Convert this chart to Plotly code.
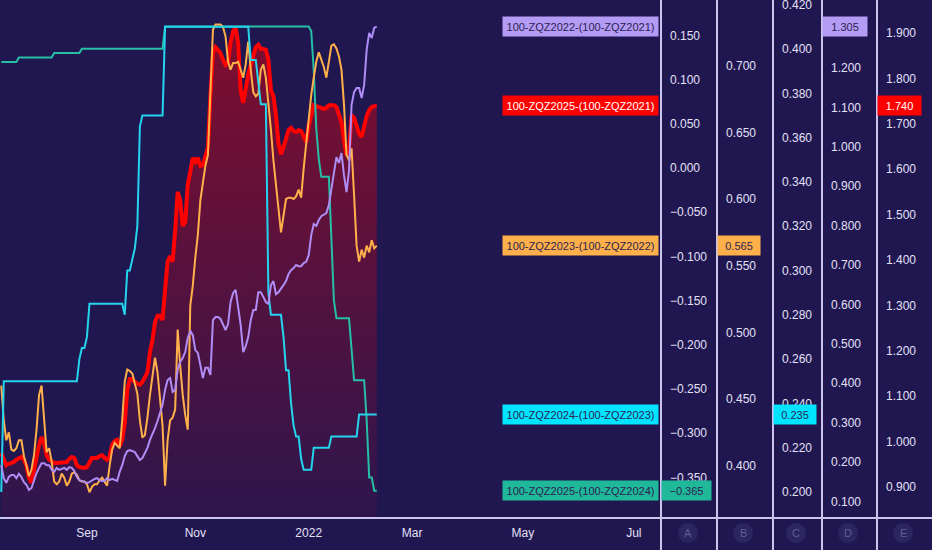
import pandas as pd
import plotly.graph_objects as go

# ---------------- data (daily, trading days) ----------------
dates = pd.bdate_range("2021-07-15", periods=150)

tick_dates = ["2021-09-01", "2021-11-01", "2022-01-03", "2022-03-01", "2022-05-02", "2022-07-01"]
tick_labels = ["Sep", "Nov", "2022", "Mar", "May", "Jul"]

series_names = [
    "100-ZQZ2022-(100-ZQZ2021)",
    "100-ZQZ2025-(100-ZQZ2021)",
    "100-ZQZ2023-(100-ZQZ2022)",
    "100-ZQZ2024-(100-ZQZ2023)",
    "100-ZQZ2025-(100-ZQZ2024)",
]

# 100-ZQZ2025-(100-ZQZ2021)  (axis E)
red_vals = [
    0.975, 0.960, 0.948, 0.951, 0.953, 0.955, 0.960, 0.964, 0.966, 0.960,
    0.946, 0.920, 0.909, 0.937, 0.966, 0.993, 1.010, 0.997, 0.970, 0.960,
    0.957, 0.953, 0.953, 0.953, 0.955, 0.955, 0.955, 0.962, 0.966, 0.964,
    0.948, 0.944, 0.942, 0.942, 0.944, 0.955, 0.964, 0.964, 0.964, 0.968,
    0.970, 0.964, 0.960, 0.968, 0.993, 1.001, 1.004, 0.990, 1.004, 1.041,
    1.114, 1.138, 1.138, 1.131, 1.127, 1.125, 1.131, 1.140, 1.153, 1.197,
    1.224, 1.263, 1.277, 1.277, 1.268, 1.334, 1.396, 1.409, 1.396, 1.466,
    1.550, 1.532, 1.475, 1.484, 1.565, 1.594, 1.625, 1.616, 1.625, 1.607,
    1.609, 1.629, 1.647, 1.763, 1.858, 1.869, 1.863, 1.856, 1.841, 1.830,
    1.836, 1.880, 1.904, 1.911, 1.878, 1.774, 1.746, 1.779, 1.808, 1.830,
    1.852, 1.869, 1.874, 1.865, 1.865, 1.863, 1.841, 1.774, 1.761, 1.719,
    1.658, 1.633, 1.649, 1.669, 1.686, 1.691, 1.684, 1.682, 1.686, 1.684,
    1.669, 1.660, 1.697, 1.722, 1.741, 1.739, 1.737, 1.735, 1.733, 1.735,
    1.741, 1.741, 1.741, 1.737, 1.722, 1.704, 1.664, 1.631, 1.642, 1.719,
    1.713, 1.695, 1.678, 1.671, 1.697, 1.717, 1.730, 1.737, 1.739, 1.740,
]

# 100-ZQZ2023-(100-ZQZ2022)  (axis B)
orange_vals = [
    0.460, 0.434, 0.419, 0.425, 0.412, 0.411, 0.413, 0.419, 0.419, 0.407,
    0.400, 0.392, 0.397, 0.408, 0.427, 0.453, 0.460, 0.434, 0.410, 0.413,
    0.403, 0.388, 0.386, 0.388, 0.394, 0.391, 0.385, 0.388, 0.394, 0.395,
    0.393, 0.389, 0.388, 0.388, 0.386, 0.380, 0.384, 0.386, 0.386, 0.389,
    0.391, 0.388, 0.385, 0.400, 0.412, 0.417, 0.415, 0.413, 0.434, 0.463,
    0.472, 0.471, 0.469, 0.462, 0.454, 0.434, 0.421, 0.423, 0.436, 0.453,
    0.468, 0.481, 0.470, 0.449, 0.430, 0.385, 0.419, 0.434, 0.436, 0.442,
    0.502, 0.475, 0.453, 0.438, 0.427, 0.520, 0.535, 0.556, 0.573, 0.599,
    0.614, 0.625, 0.633, 0.682, 0.727, 0.731, 0.731, 0.731, 0.729, 0.722,
    0.703, 0.697, 0.702, 0.702, 0.703, 0.697, 0.691, 0.701, 0.718, 0.697,
    0.680, 0.677, 0.679, 0.697, 0.701, 0.691, 0.674, 0.652, 0.629, 0.608,
    0.593, 0.575, 0.588, 0.600, 0.601, 0.601, 0.600, 0.602, 0.607, 0.601,
    0.623, 0.641, 0.663, 0.678, 0.691, 0.703, 0.710, 0.704, 0.699, 0.691,
    0.704, 0.715, 0.716, 0.713, 0.707, 0.697, 0.671, 0.633, 0.629, 0.638,
    0.603, 0.565, 0.553, 0.562, 0.556, 0.565, 0.560, 0.569, 0.563, 0.565,
]

# 100-ZQZ2024-(100-ZQZ2023)  (axis C)
cyan_vals = [
    0.200, 0.250, 0.250, 0.250, 0.250, 0.250, 0.250, 0.250, 0.250, 0.250,
    0.250, 0.250, 0.250, 0.250, 0.250, 0.250, 0.250, 0.250, 0.250, 0.250,
    0.250, 0.250, 0.250, 0.250, 0.250, 0.250, 0.250, 0.250, 0.250, 0.250,
    0.250, 0.260, 0.265, 0.265, 0.270, 0.285, 0.285, 0.285, 0.285, 0.285,
    0.285, 0.285, 0.285, 0.285, 0.285, 0.285, 0.285, 0.285, 0.285, 0.280,
    0.300, 0.300, 0.305, 0.310, 0.320, 0.365, 0.370, 0.370, 0.370, 0.370,
    0.370, 0.370, 0.370, 0.370, 0.370, 0.410, 0.410, 0.410, 0.410, 0.410,
    0.410, 0.410, 0.410, 0.410, 0.410, 0.410, 0.410, 0.410, 0.410, 0.410,
    0.410, 0.410, 0.410, 0.410, 0.410, 0.410, 0.410, 0.410, 0.410, 0.410,
    0.410, 0.410, 0.410, 0.410, 0.410, 0.410, 0.410, 0.410, 0.410, 0.395,
    0.395, 0.395, 0.385, 0.375, 0.375, 0.375, 0.290, 0.280, 0.280, 0.280,
    0.280, 0.280, 0.270, 0.255, 0.255, 0.240, 0.230, 0.225, 0.225, 0.215,
    0.210, 0.210, 0.210, 0.210, 0.220, 0.220, 0.220, 0.220, 0.220, 0.220,
    0.220, 0.225, 0.225, 0.225, 0.225, 0.225, 0.225, 0.225, 0.225, 0.225,
    0.225, 0.225, 0.235, 0.235, 0.235, 0.235, 0.235, 0.235, 0.235, 0.235,
]

# 100-ZQZ2025-(100-ZQZ2024)  (axis A)
teal_vals = [
    0.120, 0.120, 0.120, 0.120, 0.120, 0.120, 0.120, 0.125, 0.125, 0.125,
    0.125, 0.125, 0.125, 0.125, 0.125, 0.125, 0.125, 0.125, 0.125, 0.125,
    0.125, 0.130, 0.130, 0.130, 0.130, 0.130, 0.130, 0.130, 0.130, 0.130,
    0.130, 0.130, 0.135, 0.135, 0.135, 0.135, 0.135, 0.135, 0.135, 0.135,
    0.135, 0.135, 0.135, 0.135, 0.135, 0.135, 0.135, 0.135, 0.135, 0.135,
    0.135, 0.135, 0.135, 0.135, 0.135, 0.135, 0.135, 0.135, 0.135, 0.135,
    0.135, 0.135, 0.135, 0.135, 0.135, 0.160, 0.160, 0.160, 0.160, 0.160,
    0.160, 0.160, 0.160, 0.160, 0.160, 0.160, 0.160, 0.160, 0.160, 0.160,
    0.160, 0.160, 0.160, 0.160, 0.160, 0.160, 0.160, 0.160, 0.160, 0.160,
    0.160, 0.160, 0.160, 0.160, 0.160, 0.160, 0.160, 0.160, 0.160, 0.160,
    0.160, 0.160, 0.160, 0.160, 0.160, 0.160, 0.160, 0.160, 0.160, 0.160,
    0.160, 0.160, 0.160, 0.160, 0.160, 0.160, 0.160, 0.160, 0.160, 0.160,
    0.160, 0.160, 0.160, 0.155, 0.110, 0.045, 0.010, -0.010, -0.010, -0.010,
    -0.010, -0.080, -0.150, -0.170, -0.170, -0.170, -0.170, -0.170, -0.170, -0.205,
    -0.240, -0.240, -0.240, -0.240, -0.240, -0.285, -0.350, -0.350, -0.365, -0.365,
]

# 100-ZQZ2022-(100-ZQZ2021)  (axis D)
purple_vals = [
    0.192, 0.159, 0.147, 0.162, 0.167, 0.167, 0.159, 0.170, 0.162, 0.149,
    0.142, 0.129, 0.134, 0.154, 0.172, 0.185, 0.197, 0.197, 0.192, 0.192,
    0.180, 0.175, 0.185, 0.180, 0.182, 0.185, 0.180, 0.187, 0.185, 0.177,
    0.162, 0.154, 0.152, 0.149, 0.147, 0.149, 0.154, 0.157, 0.159, 0.154,
    0.152, 0.152, 0.159, 0.154, 0.157, 0.154, 0.152, 0.175, 0.192, 0.215,
    0.228, 0.230, 0.228, 0.225, 0.215, 0.205, 0.210, 0.225, 0.236, 0.256,
    0.269, 0.286, 0.304, 0.327, 0.345, 0.383, 0.408, 0.413, 0.378, 0.383,
    0.434, 0.454, 0.464, 0.479, 0.515, 0.533, 0.522, 0.484, 0.477, 0.446,
    0.413, 0.439, 0.439, 0.421, 0.560, 0.568, 0.568, 0.563, 0.548, 0.535,
    0.550, 0.606, 0.629, 0.637, 0.593, 0.548, 0.479, 0.494, 0.517, 0.560,
    0.586, 0.586, 0.631, 0.631, 0.619, 0.606, 0.601, 0.649, 0.659, 0.626,
    0.631, 0.639, 0.649, 0.659, 0.677, 0.687, 0.692, 0.700, 0.697, 0.697,
    0.705, 0.708, 0.725, 0.776, 0.804, 0.799, 0.814, 0.824, 0.827, 0.832,
    0.852, 0.895, 0.936, 0.974, 0.959, 0.984, 0.928, 0.885, 0.941, 1.106,
    1.139, 1.149, 1.149, 1.124, 1.157, 1.246, 1.289, 1.276, 1.302, 1.305,
]

# tick values per price scale
ticks_A = [-0.35, -0.30, -0.25, -0.20, -0.15, -0.10, -0.05, 0.0, 0.05, 0.10, 0.15]
ticks_B = [0.40, 0.45, 0.50, 0.55, 0.60, 0.65, 0.70]
ticks_C = [0.20, 0.22, 0.24, 0.26, 0.28, 0.30, 0.32, 0.34, 0.36, 0.38, 0.40, 0.42]
ticks_D = [0.1, 0.2, 0.3, 0.4, 0.5, 0.6, 0.7, 0.8, 0.9, 1.0, 1.1, 1.2]
ticks_E = [0.9, 1.0, 1.1, 1.2, 1.3, 1.4, 1.5, 1.6, 1.7, 1.8, 1.9]

# ---------------- layout constants ----------------
W, H = 932, 550
BOTTOM = 518
BG = "#201751"
AXLINE = "#cbc5ee"
TICK = "#e4e0f6"
DARK = "#2b2353"
FONT = "Liberation Sans"


def px(x):
    return x / W


def py(y):
    return (H - y) / H


ydom = [py(BOTTOM), 1]

# axis id, pixel x of axis line, range, tick values
ax_E = ("y", 877, [0.83172, 1.97269], ticks_E)
ax_A = ("y2", 661, [-0.3959, 0.19005], ticks_A)
ax_B = ("y3", 717, [0.36069, 0.74929], ticks_B)
ax_C = ("y4", 773, [0.18826, 0.42212], ticks_C)
ax_D = ("y5", 822, [0.05787, 1.37259], ticks_D)

C_RED = "#ff0000"
C_ORANGE = "#ffb04a"
C_CYAN_LINE = "#24d4ec"
C_CYAN = "#00e5ff"
C_TEAL_LINE = "#26bea5"
C_TEAL = "#1fb898"
C_PURPLE = "#b08cf5"
C_PURPLE_BOX = "#b49bf3"

fig = go.Figure()

# red area (drawn first: base subplot)
fig.add_trace(go.Scatter(
    x=dates, y=red_vals, yaxis="y", mode="lines",
    line=dict(color=C_RED, width=4),
    fill="tozeroy",
    fillgradient=dict(type="vertical",
                      colorscale=[[0, "rgba(255,0,0,0.06)"], [1, "rgba(255,0,0,0.45)"]],
                      start=0.83, stop=1.97),
    hoverinfo="skip", showlegend=False))

fig.add_trace(go.Scatter(x=dates, y=teal_vals, yaxis="y2", mode="lines",
                         line=dict(color=C_TEAL_LINE, width=2), showlegend=False))
fig.add_trace(go.Scatter(x=dates, y=orange_vals, yaxis="y3", mode="lines",
                         line=dict(color=C_ORANGE, width=2), showlegend=False))
fig.add_trace(go.Scatter(x=dates, y=cyan_vals, yaxis="y4", mode="lines",
                         line=dict(color=C_CYAN_LINE, width=2), showlegend=False))
fig.add_trace(go.Scatter(x=dates, y=purple_vals, yaxis="y5", mode="lines",
                         line=dict(color=C_PURPLE, width=2), showlegend=False))


def yaxis_cfg(ax, overlay):
    _, xpos, rng, tv = ax
    d = dict(domain=ydom, anchor="free", position=px(xpos), side="right",
             range=rng, tickmode="array", tickvals=tv, tickformat=".3f",
             showgrid=False, zeroline=False, showline=False, ticks="",
             tickfont=dict(family=FONT, size=12, color=TICK),
             ticklabelstandoff=8, ticklabeloverflow="allow",
             automargin=False, fixedrange=True)
    if overlay:
        d["overlaying"] = "y"
    return d


fig.update_layout(
    width=W, height=H,
    margin=dict(l=0, r=0, t=0, b=0, pad=0),
    paper_bgcolor=BG, plot_bgcolor=BG,
    showlegend=False,
    xaxis=dict(domain=[0, px(661)], anchor="y",
               range=["2021-07-14 12:00", "2022-07-15 19:00"],
               rangebreaks=[dict(bounds=["sat", "mon"])],
               tickmode="array", tickvals=tick_dates, ticktext=tick_labels,
               showgrid=False, zeroline=False, showline=False, ticks="",
               tickfont=dict(family=FONT, size=12, color=TICK),
               ticklabelstandoff=6, automargin=False, fixedrange=True),
    yaxis=yaxis_cfg(ax_E, False),
    yaxis2=yaxis_cfg(ax_A, True),
    yaxis3=yaxis_cfg(ax_B, True),
    yaxis4=yaxis_cfg(ax_C, True),
    yaxis5=yaxis_cfg(ax_D, True),
)

shapes = []
for xl in (661, 717, 773, 822, 877):
    shapes.append(dict(type="line", xref="paper", yref="paper",
                       x0=px(xl), x1=px(xl), y0=0, y1=1,
                       line=dict(color=AXLINE, width=2), layer="above"))
shapes.append(dict(type="line", xref="paper", yref="paper",
                   x0=0, x1=1, y0=py(BOTTOM), y1=py(BOTTOM),
                   line=dict(color=AXLINE, width=2), layer="above"))

letters = ["A", "B", "C", "D", "E"]
letter_x = [688, 743, 796, 848, 903]
annotations = []
for L, cx in zip(letters, letter_x):
    shapes.append(dict(type="circle", xref="paper", yref="paper",
                       x0=px(cx - 10), x1=px(cx + 10), y0=py(543), y1=py(523),
                       fillcolor="#2b2560", line=dict(width=0), layer="above"))
    annotations.append(dict(x=px(cx), y=py(533), xref="paper", yref="paper",
                            xanchor="center", yanchor="middle",
                            text=L, showarrow=False,
                            font=dict(family=FONT, size=11, color="#615d90")))

# last-value labels
label_specs = [
    (series_names[0], purple_vals, ax_D, C_PURPLE_BOX, DARK, 40),
    (series_names[1], red_vals, ax_E, C_RED, "#ffffff", 39),
    (series_names[2], orange_vals, ax_B, C_ORANGE, DARK, 38),
    (series_names[3], cyan_vals, ax_C, C_CYAN, DARK, 38),
    (series_names[4], teal_vals, ax_A, C_TEAL, DARK, 45),
]
for name, vals, ax, col, tcol, vw in label_specs:
    yref, xpos, _, _ = ax
    last = vals[-1]
    annotations.append(dict(
        x=px(659), xref="paper", xanchor="right",
        y=last, yref=yref, yanchor="middle",
        text=name, showarrow=False, bgcolor=col,
        width=151, height=15, borderpad=2, align="center",
        font=dict(family=FONT, size=11, color=tcol)))
    annotations.append(dict(
        x=px(xpos), xref="paper", xanchor="left",
        y=last, yref=yref, yanchor="middle",
        text=f"{last:.3f}".replace("-", "\u2212"), showarrow=False, bgcolor=col,
        width=vw, height=15, borderpad=2, align="center",
        font=dict(family=FONT, size=11, color=tcol)))

fig.update_layout(shapes=shapes, annotations=annotations)

fig.write_html("out.html",
               config={"displayModeBar": False},
               post_script="document.body.style.margin='0';document.body.style.overflow='hidden';")
